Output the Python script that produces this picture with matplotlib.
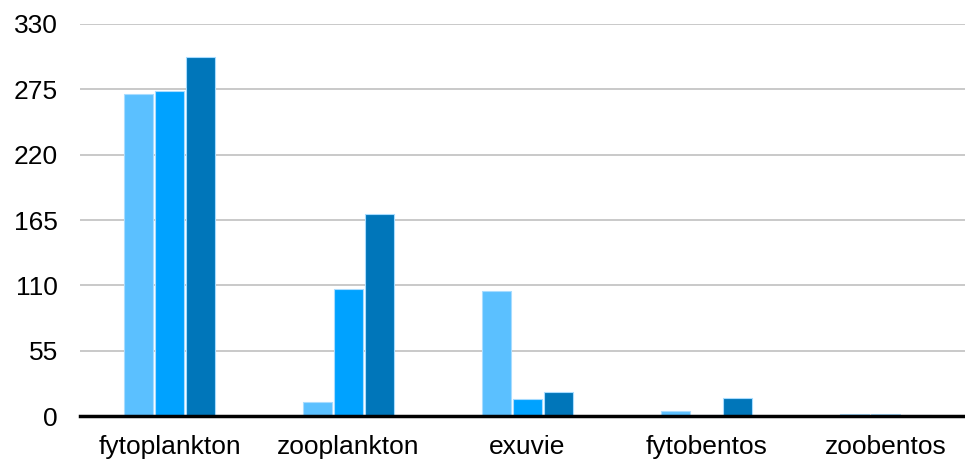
import numpy as np
import matplotlib.pyplot as plt

plt.rcParams['font.family'] = ['Liberation Sans', 'DejaVu Sans']

categories = ['fytoplankton', 'zooplankton', 'exuvie', 'fytobentos', 'zoobentos']
serie_1 = [271, 12, 105, 4, 2]
serie_2 = [274, 107, 14, 0.5, 2]
serie_3 = [302, 170, 20, 15, 1]
colors = ['#5bc0ff', '#00a2ff', '#0076ba']
yticks = [0, 55, 110, 165, 220, 275, 330]

fig = plt.figure(figsize=(9.65, 4.62), dpi=100)
# the plot area runs slightly past the right edge of the figure
ax = fig.add_axes([80 / 965, 1 - 416 / 462, 895 / 965, 392 / 462])

x = np.arange(len(categories))
step = 0.173
w = 0.16
for k, vals in enumerate([serie_1, serie_2, serie_3]):
    ax.bar(x + (k - 1) * step, vals, width=w, color=colors[k],
           edgecolor='#a8dcff', linewidth=0.8, zorder=3)

ax.set_xlim(-0.5, len(categories) - 0.5)
ax.set_ylim(0, 330)
ax.set_yticks(yticks)
ax.set_xticks(x)
ax.set_xticklabels(categories)
ax.yaxis.grid(True, color='#c0c0c0', linewidth=1.2, zorder=0)
for s in ['top', 'right', 'left']:
    ax.spines[s].set_visible(False)
ax.spines['bottom'].set_linewidth(2.5)
ax.spines['bottom'].set_color('black')
ax.spines['bottom'].set_zorder(4)
ax.tick_params(axis='both', length=0, labelsize=19, colors='black')
ax.tick_params(axis='x', pad=13.5)
ax.tick_params(axis='y', pad=16)

fig.savefig('out.png', dpi=100)
